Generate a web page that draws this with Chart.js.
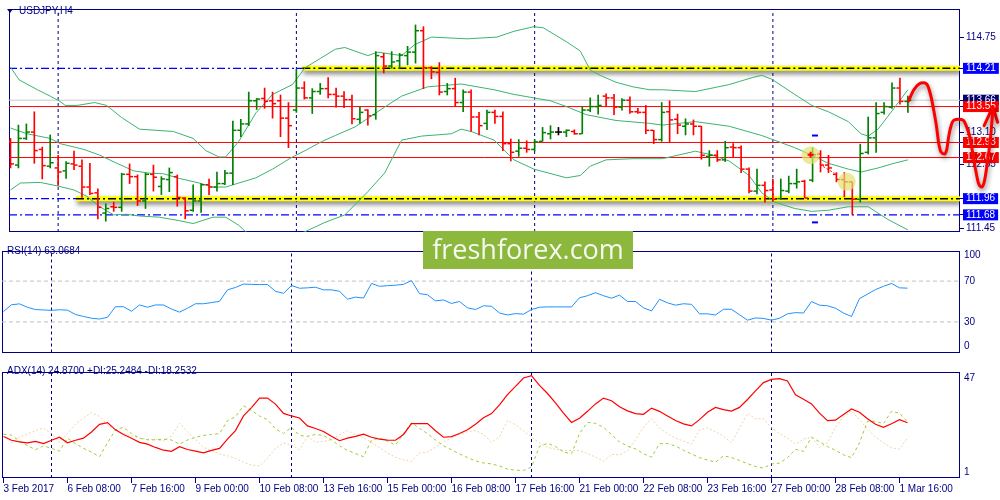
<!DOCTYPE html>
<html>
<head>
<meta charset="utf-8">
<title>USDJPY,H4</title>
<script src="https://cdn.jsdelivr.net/npm/chart.js@4.4.1/dist/chart.umd.min.js"></script>
<style>
  body { margin: 0; background: #fff; }
  #wrap { position: relative; width: 1000px; height: 500px; overflow: hidden; background: #fff; }
  #wrap canvas { position: absolute; left: 0; }
  .cap { position: absolute; left: 7px; font: 10px/12px "Liberation Sans", Arial, sans-serif; color: #000080; white-space: nowrap; z-index: 2; }
  #tri { position: absolute; left: 7px; top: 9px; width: 0; height: 0; border-left: 3px solid transparent; border-right: 3px solid transparent; border-top: 4px solid #000080; z-index: 2; }
  #logo { position: absolute; left: 423px; top: 231px; width: 210px; height: 38px; background: #8db83e; color: #f6f9ef; font: 27px/36px "Open Sans", sans-serif; text-align: center; z-index: 3; }
</style>
</head>
<body>
<div id="wrap">
  <canvas id="main" width="1000" height="241" style="top:0"></canvas>
  <canvas id="rsi" width="1000" height="121" style="top:241px"></canvas>
  <canvas id="adx" width="1000" height="138" style="top:362px"></canvas>
  <div id="tri"></div>
  <div class="cap" style="left:19px;top:5px">USDJPY,H4</div>
  <div class="cap" style="top:245px">RSI(14) 63.0684</div>
  <div class="cap" style="top:365px">ADX(14) 24.8700 +DI:25.2484 -DI:18.2532</div>
  <div id="logo">freshforex.com</div>
</div>
<script>
// H4 bars, 3 Feb 2017 00:00 .. 1 Mar 20:00
const barOpen = [112.95,112.54,113.00,113.11,112.81,112.52,112.49,112.44,112.56,112.52,
  112.16,112.06,111.71,111.82,111.81,112.38,112.34,111.92,112.38,112.17,
  112.29,112.34,111.97,111.76,111.92,112.20,112.16,112.22,112.40,113.14,
  113.25,113.65,113.69,113.65,113.65,113.35,113.49,113.87,113.70,113.81,
  113.86,113.76,113.73,113.67,113.33,113.49,113.41,114.41,114.25,114.34,
  114.43,114.49,114.86,114.22,114.14,113.81,113.86,113.62,113.80,113.37,
  113.26,113.45,113.38,112.91,112.78,112.83,112.81,112.95,113.08,113.11,
  113.11,113.12,113.08,113.49,113.55,113.73,113.70,113.54,113.66,113.46,
  113.45,113.14,112.98,113.46,113.33,113.21,113.25,113.21,112.69,112.71,
  112.63,112.85,112.84,112.47,112.09,112.19,112.11,111.96,112.09,112.22,
  112.26,112.28,112.73,112.54,112.38,112.29,112.25,111.95,112.76,113.01,
  113.45,113.54,113.87,113.64];
const barHigh = [113.00,113.23,113.25,113.46,112.85,113.06,112.71,112.60,112.78,112.63,
  112.57,112.13,111.87,111.90,112.40,112.56,112.37,112.40,112.54,112.34,
  112.49,112.37,111.98,112.20,112.22,112.30,112.42,112.45,113.30,113.33,
  113.80,113.69,113.87,113.80,113.75,113.62,114.19,113.98,113.86,113.95,
  114.05,113.87,113.81,113.75,113.54,113.50,114.50,114.47,114.50,114.47,
  114.59,114.96,114.93,114.24,114.31,113.95,114.04,113.84,113.84,113.45,
  113.49,113.49,113.46,112.99,112.98,112.96,112.98,113.19,113.22,113.19,
  113.15,113.15,113.55,113.70,113.75,113.77,113.76,113.69,113.72,113.52,
  113.57,113.14,113.62,113.65,113.42,113.34,113.32,113.21,112.79,112.79,
  112.95,112.91,112.87,112.49,112.47,112.25,112.30,112.30,112.35,112.47,
  112.28,112.84,112.79,112.71,112.41,112.41,112.25,112.90,113.37,113.62,
  113.62,113.96,114.04,113.73];
const barLow = [112.49,112.49,112.98,112.57,112.30,112.49,112.19,112.31,112.46,111.98,
  112.03,111.61,111.57,111.74,111.74,112.22,111.84,111.79,112.09,112.03,
  112.08,111.83,111.61,111.74,111.72,112.03,112.09,112.20,112.20,113.03,
  113.22,113.50,113.52,113.35,113.03,112.84,113.45,113.68,113.43,113.76,
  113.70,113.54,113.53,113.25,113.26,113.23,113.33,114.13,114.21,114.21,
  114.27,114.30,113.86,114.03,113.75,113.75,113.55,113.46,113.12,113.06,
  113.15,113.26,112.79,112.61,112.69,112.76,112.78,112.95,112.99,113.06,
  113.03,113.07,113.08,113.46,113.42,113.55,113.41,113.49,113.43,113.43,
  113.08,112.91,112.95,112.94,113.08,113.06,113.06,112.64,112.52,112.60,
  112.60,112.68,112.41,112.06,112.04,111.90,111.92,111.95,112.06,112.14,
  111.97,112.25,112.42,112.41,112.25,111.99,111.68,111.90,112.73,112.76,
  113.42,113.52,113.59,113.45];
const barClose = [112.56,113.00,113.11,112.79,112.53,112.58,112.42,112.57,112.54,112.16,
  112.05,111.81,111.79,111.81,112.38,112.34,111.92,112.38,112.33,112.30,
  112.41,111.98,111.75,111.92,112.20,112.16,112.22,112.40,113.14,113.25,
  113.65,113.68,113.64,113.60,113.35,113.22,113.87,113.70,113.81,113.86,
  113.76,113.73,113.67,113.34,113.45,113.39,114.43,114.25,114.32,114.44,
  114.49,114.86,114.22,114.15,113.80,113.86,113.62,113.80,113.37,113.22,
  113.45,113.38,112.91,112.76,112.83,112.81,112.94,113.10,113.11,113.11,
  113.14,113.08,113.49,113.55,113.57,113.70,113.54,113.66,113.46,113.45,
  113.14,112.98,113.45,113.32,113.23,113.25,113.21,112.71,112.71,112.63,
  112.84,112.84,112.47,112.09,112.19,112.10,111.95,112.10,112.22,112.25,
  111.97,112.72,112.54,112.49,112.29,112.25,111.95,112.74,113.01,113.43,
  113.55,113.87,113.64,113.66];

// Bollinger bands: [bar, price]
const bbUpper = [[0,114.23],[1.1,114.01],[3.4,113.84],[5,113.73],[6.1,113.65],[6.9,113.57],[8.4,113.57],[10.6,113.62],
  [12.1,113.57],[14,113.36],[16.25,113.16],[20.5,113.12],[23,113.00],[24.6,112.79],[26.25,112.68],[27.1,112.68],
  [28.75,112.95],[30.9,113.44],[33,113.76],[35.5,113.93],[37.1,114.22],[39,114.38],[40.9,114.54],[42.1,114.57],
  [45,114.43],[46.25,114.49],[49.25,114.43],[50.9,114.62],[53,114.75],[57.5,114.72],[61.25,114.75],[63.4,114.85],
  [65.9,114.93],[67.1,114.91],[70,114.67],[71.75,114.51],[73,114.18],[74.25,114.09],[76.25,113.97],[78.4,113.89],
  [80.5,113.84],[82.1,113.84],[86.25,113.81],[90.5,113.93],[93.4,114.05],[94.6,114.09],[95.9,114.02],[98.75,113.76],
  [100.9,113.57],[103,113.46],[105.5,113.29],[107.1,113.08],[108,113.04],[109.25,113.16],[111.25,113.52],[113,113.84]];
const bbMiddle = [[0,113.18],[2.1,113.08],[5,113.00],[6.25,112.91],[9.25,112.81],[11.25,112.71],[13.4,112.57],[15.5,112.44],
  [17.5,112.40],[19.25,112.39],[21.25,112.31],[23.75,112.23],[25.5,112.16],[27.1,112.16],[28.75,112.23],[30.9,112.32],
  [33,112.47],[35.5,112.68],[37.1,112.79],[39.25,112.95],[40.9,113.05],[43.4,113.20],[47.1,113.54],[49.25,113.73],
  [52.5,113.89],[56.75,113.94],[60.9,113.84],[63.4,113.76],[65.9,113.70],[68,113.65],[70,113.55],[72.5,113.41],
  [76.25,113.31],[80.5,113.26],[82.1,113.23],[86.25,113.29],[90.5,113.21],[94.6,113.05],[98.75,112.84],[100.9,112.71],
  [103,112.57],[105.5,112.47],[107.1,112.42],[109.25,112.49],[111.25,112.57],[113,112.63]];
const bbLower = [[0,112.11],[1.25,112.23],[3.75,112.24],[5.9,112.18],[8,112.11],[9.6,112.00],[11.25,111.82],[13,111.68],
  [14.6,111.69],[16.25,111.66],[18.75,111.64],[21.25,111.58],[23,111.53],[25.5,111.64],[27.1,111.64],[28.75,111.50],
  [29.6,111.39],[31.5,111.26],[34,111.22],[37.1,111.39],[39.6,111.55],[42.1,111.68],[45,112.08],[47.1,112.40],
  [49.25,112.97],[51.75,113.04],[55.5,113.08],[56.75,113.16],[58,113.12],[60.9,112.97],[63.4,112.63],[65.9,112.47],
  [70,112.32],[71.75,112.36],[73,112.52],[75,112.63],[78.4,112.65],[82.1,112.65],[86.25,112.78],[88.4,112.71],
  [90.5,112.61],[93,112.36],[94.6,112.06],[96.25,111.90],[98.75,111.79],[100.9,111.74],[103,111.76],[105.5,111.82],
  [108,111.82],[110.5,111.60],[113,111.42]];

const rsiValues = [40.2,46.8,47.7,44.3,42.1,41.7,41.3,41.9,41.5,37.3,
  35.3,33.6,32.8,34.5,44.9,44.9,40.4,46.6,44.4,46.6,
  46.6,42.6,39.6,43.4,47.8,47.8,48.9,50.2,61.4,63.8,
  67.1,66.8,66.6,66.6,60.0,58.0,65.7,63.0,63.4,64.0,
  61.4,61.4,60.0,52.3,54.3,53.4,67.7,64.9,65.5,66.0,
  66.8,70.5,57.7,56.6,50.6,51.5,48.1,50.0,43.8,42.1,
  45.8,45.3,38.7,36.8,38.1,37.6,42.1,44.4,44.7,44.7,
  44.7,44.7,53.6,55.7,58.6,55.7,53.2,56.3,50.0,50.0,
  43.8,40.7,52.1,48.7,46.4,47.8,47.2,37.9,37.9,36.8,
  42.4,42.4,37.0,31.7,33.9,33.4,31.7,33.6,37.9,39.1,
  38.7,50.0,46.4,45.8,43.4,38.7,35.3,52.9,57.2,61.7,
  64.9,67.7,63.4,63.07];

const adxValues = [18.9,17.3,16.6,16.2,16.8,15.9,17.3,18.6,16.2,17.3,
  18.2,20.9,24.2,24.9,21.8,19.8,18.2,16.4,15.6,14.2,
  13.0,12.5,14.5,13.3,12.6,11.9,12.9,13.8,17.8,21.5,
  27.8,31.4,35.5,35.5,32.9,28.9,27.8,26.9,23.5,22.4,
  21.1,19.0,17.1,18.2,19.0,19.9,18.6,17.8,17.4,17.3,
  19.8,24.5,24.5,24.5,21.4,18.6,18.9,20.2,21.8,24.2,
  27.0,28.8,32.6,37.0,40.6,44.2,45.2,41.0,37.5,33.4,
  29.0,25.0,26.8,29.8,33.0,35.5,34.4,31.8,30.0,28.8,
  28.5,31.2,29.8,27.8,25.8,24.4,23.5,26.2,29.4,31.5,
  30.5,29.9,31.5,34.9,38.6,42.2,43.6,43.9,42.9,36.9,
  35.0,33.0,29.0,25.8,26.0,28.4,30.8,29.4,26.6,24.2,
  22.9,24.4,26.2,24.87];
const plusDI = [19.9,19.5,17.0,15.0,13.2,14.9,13.8,12.6,18.2,15.8,
  13.8,12.2,10.2,16.2,21.8,22.9,20.2,18.2,17.5,17.5,
  17.8,17.4,15.6,17.4,18.6,19.4,19.8,20.2,25.8,27.5,
  32.2,30.2,27.8,26.2,22.2,20.2,22.9,19.4,19.0,19.8,
  19.4,17.4,14.9,12.9,11.6,10.2,17.4,18.2,16.9,15.2,
  20.2,24.9,22.4,20.2,17.4,14.9,13.2,11.4,9.8,8.4,
  7.5,7.1,6.2,4.8,4.4,4.2,5.8,14.6,16.0,14.6,
  12.2,11.5,20.2,25.0,24.6,22.9,19.8,16.6,14.8,13.6,
  11.5,10.0,15.8,15.9,14.8,13.0,11.4,9.8,8.8,7.8,
  10.6,9.8,8.6,7.2,6.0,5.3,7.1,7.4,9.8,13.4,
  12.5,18.6,16.6,14.6,13.0,11.0,9.8,16.2,25.5,25.5,
  24.5,29.8,29.0,25.25];
const minusDI = [20.2,16.2,18.6,20.0,21.4,22.6,20.2,16.4,20.2,24.2,
  27.0,29.2,27.6,24.2,21.8,20.2,19.2,18.2,17.8,17.6,
  17.0,19.2,24.6,21.0,17.6,14.2,12.8,11.4,10.6,9.4,
  7.8,6.6,6.2,9.5,13.8,16.2,15.2,13.2,18.9,16.4,
  16.8,17.5,19.6,21.5,19.6,18.4,16.4,14.2,11.8,10.0,
  8.8,8.2,11.8,12.2,14.2,16.6,18.2,19.8,21.0,21.5,
  19.8,16.4,18.9,25.8,24.0,21.4,18.6,16.2,14.2,13.4,
  12.9,12.9,12.9,11.6,10.0,8.2,11.2,11.0,12.8,17.4,
  23.0,26.6,22.6,20.2,18.2,17.0,15.6,21.8,22.6,21.0,
  19.0,16.2,22.6,28.9,26.6,26.6,22.6,20.2,18.2,15.6,
  17.8,18.6,14.2,16.2,23.0,27.4,30.0,26.2,22.2,18.6,
  16.2,14.0,13.5,18.25];

// time axis
const xTickIdx = [0,8,16,24,32,40,48,56,64,72,80,88,96,104,112];
const xTickLabels = ['3 Feb 2017','6 Feb 08:00','7 Feb 16:00','9 Feb 00:00','10 Feb 08:00','13 Feb 16:00',
  '15 Feb 00:00','16 Feb 08:00','17 Feb 16:00','21 Feb 00:00','22 Feb 08:00','23 Feb 16:00',
  '27 Feb 00:00','28 Feb 08:00','1 Mar 16:00'];
const weekIdx = [6, 36, 66, 96];

// price scale + levels
const priceTicks = [114.75, 113.10, 112.55, 111.45];
const lastPrice = 113.66;
const redLevels = [113.55, 112.93, 112.67];
const yellowLevels = [114.21, 111.96];
const yellowFrom = [36.75, 8.25];
const blueLevel = 111.68;
const rsiLevels = [100, 70, 30, 0];
const adxLevels = [47, 1];

// analyst marks
const markCircles = [[100.75, 112.71], [105.3, 112.25]];
const markPlus = [[100.75, 112.72]];
const markDash = [[101.3, 113.05], [101.3, 111.55]];
const markArrow = [[101.9, 112.55], [103.75, 112.40]];
const forecast = [[113.1,113.65],[113.75,113.84],[114.4,113.94],[115,113.96],[115.5,113.91],[115.9,113.73],
  [116.25,113.49],[116.6,113.21],[116.9,112.90],[117.2,112.76],[117.6,112.73],[117.9,112.81],[118.1,113.00],
  [118.4,113.20],[118.75,113.31],[119.4,113.33],[120,113.31],[120.4,113.20],[120.75,113.05],[121.1,112.80],
  [121.5,112.48],[121.9,112.22],[122.3,112.16],[122.6,112.24],[123,112.57],[123.4,113.00],[123.7,113.50]];
const forecastHead = [[122.6,113.22],[123.7,113.55],[124.3,113.28]];

const navy = '#000080';
const font = { family: '"Liberation Sans", Arial, sans-serif', size: 10, lineHeight: 1.1 };
const xMin = -0.1875, xMax = 119.5625;
const mainMin = 111.384, mainMax = 115.235;

const pts = arr => arr.map(([x, y]) => ({ x, y }));
const seq = arr => arr.map((y, x) => ({ x, y }));
const hline = (x0, x1, y, color, width, dash, order, extra) => Object.assign({
  type: 'line', data: [{ x: x0, y }, { x: x1, y }], borderColor: color, borderWidth: width,
  borderDash: dash || [], pointRadius: 0, order
}, extra || {});
const vlines = (y0, y1) => weekIdx.map(i => ({
  type: 'line', data: [{ x: i, y: y0 }, { x: i, y: y1 }], borderColor: navy, borderWidth: 1,
  borderDash: [3, 3], pointRadius: 0, order: 30
}));

const framePlugin = {
  id: 'frame',
  beforeDatasetsDraw(chart) {
    const { ctx, chartArea: a } = chart;
    const l = Math.round(a.left), t = Math.round(a.top), r = Math.round(a.right), b = Math.round(a.bottom);
    ctx.save();
    ctx.strokeStyle = navy;
    ctx.lineWidth = 1;
    ctx.strokeRect(l + 0.5, t + 0.5, r - l - 1, b - t - 1);
    ctx.restore();
  }
};
const shadowPlugin = {
  id: 'shadow',
  beforeDatasetDraw(chart, args) {
    const ds = chart.data.datasets[args.index];
    if (!ds.shadow) return;
    const c = chart.ctx;
    c.save();
    c.shadowColor = ds.shadow;
    c.shadowBlur = 5;
    c.shadowOffsetX = 1;
    c.shadowOffsetY = 3;
  },
  afterDatasetDraw(chart, args) {
    if (chart.data.datasets[args.index].shadow) chart.ctx.restore();
  }
};

const hiddenX = () => ({ type: 'linear', min: xMin, max: xMax, offset: false, grid: { offset: false }, display: false });

function baseOptions(padding, yScale, xScale) {
  return {
    responsive: false, animation: false, events: [],
    layout: { padding },
    plugins: { legend: { display: false }, tooltip: { enabled: false } },
    scales: { x: xScale || hiddenX(), y: yScale }
  };
}

// ---- main price panel ----
const boxMap = {};
boxMap[lastPrice.toFixed(2)] = '#000070';
yellowLevels.forEach(v => { boxMap[v.toFixed(2)] = '#0000ff'; });
boxMap[blueLevel.toFixed(2)] = '#0000ff';
redLevels.forEach(v => { boxMap[v.toFixed(2)] = '#ff0000'; });
const boxOf = t => (t ? boxMap[t.value.toFixed(2)] : undefined);
const mainTickOrder = priceTicks.concat([lastPrice, yellowLevels[0], ...redLevels, yellowLevels[1], blueLevel]);

const barColors = barClose.map((c, i) => c > barOpen[i] ? '#008000' : (c < barOpen[i] ? '#ff0000' : '#000000'));

// the drawn forecast runs past the last bar, over the price scale; its points are fed
// in reverse order so Chart.js does not trim the ones beyond the x range
const mainSets = [
  ...vlines(mainMin, mainMax),
  hline(xMin, xMax, lastPrice, '#c8c8c8', 1, [], 29),
  ...yellowLevels.map((v, k) => hline(yellowFrom[k], xMax, v, '#ffff00', 5, [], 28, { shadow: 'rgba(0,0,0,0.55)' })),
  ...redLevels.map(v => hline(xMin, xMax, v, '#ff0000', 1, [], 27)),
  ...yellowLevels.map((v, k) => hline(yellowFrom[k], xMax, v, '#000000', 1.5, [8, 3, 2, 3], 26)),
  ...yellowLevels.map((v, k) => hline(xMin, yellowFrom[k], v, '#0000ff', 1.2, [8, 3, 2, 3], 26)),
  hline(xMin, xMax, blueLevel, '#0000ff', 1.2, [8, 3, 2, 3], 26),
  ...[bbUpper, bbMiddle, bbLower].map(b => ({
    type: 'line', data: pts(b), borderColor: '#3cb371', borderWidth: 1, pointRadius: 0, order: 20
  })),
  { type: 'line', data: pts(markDash), showLine: false, pointStyle: 'line', pointRadius: 3,
    pointBorderColor: '#0000ff', pointBorderWidth: 2, order: 15 },
  { type: 'bar', data: barHigh.map((h, i) => ({ x: i, y: [barLow[i], h] })), backgroundColor: barColors,
    barThickness: 1, grouped: false, order: 10 },
  { type: 'line', data: barOpen.map((o, i) => ({ x: i - 0.25, y: o })), showLine: false, pointStyle: 'line',
    pointRadius: 1.5, pointBorderColor: barColors, pointBorderWidth: 1.5, order: 10 },
  { type: 'line', data: barClose.map((c, i) => ({ x: i + 0.25, y: c })), showLine: false, pointStyle: 'line',
    pointRadius: 1.5, pointBorderColor: barColors, pointBorderWidth: 1.5, order: 10 },
  { type: 'line', data: pts(markCircles), showLine: false, pointRadius: 9, pointBorderWidth: 0,
    pointBackgroundColor: 'rgba(225,225,110,0.7)', order: 6 },
  { type: 'line', data: pts(markArrow), borderColor: '#ff0000', borderWidth: 1, borderDash: [2, 2], pointRadius: 0, order: 5 },
  { type: 'line', data: pts(markPlus), showLine: false, pointStyle: 'cross', pointRadius: 3,
    pointBorderColor: '#ff0000', pointBorderWidth: 2, order: 4 },
  { type: 'line', data: pts(forecast).reverse(), borderColor: '#ff0000', borderWidth: 3, pointRadius: 0,
    cubicInterpolationMode: 'monotone', borderCapStyle: 'round', borderJoinStyle: 'round',
    clip: false, order: 1, shadow: 'rgba(0,0,0,0.45)' },
  { type: 'line', data: pts(forecastHead).reverse(), borderColor: '#ff0000', borderWidth: 3, pointRadius: 0,
    borderCapStyle: 'round', borderJoinStyle: 'round', clip: false, order: 1, shadow: 'rgba(0,0,0,0.45)' }
];

new Chart(document.getElementById('main'), {
  type: 'line',
  data: { datasets: mainSets },
  options: baseOptions({ left: 2, top: 2, bottom: 1, right: 0 }, {
    type: 'linear', position: 'right', min: mainMin, max: mainMax,
    afterBuildTicks: s => { s.ticks = mainTickOrder.map(v => ({ value: v })); },
    afterFit: s => { s.width = 40; },
    border: { display: false },
    grid: { drawOnChartArea: false, drawTicks: true, tickLength: 4, color: navy },
    ticks: {
      autoSkip: false, padding: 2, font,
      callback: v => v.toFixed(2),
      color: c => boxOf(c.tick) ? '#ffffff' : navy,
      showLabelBackdrop: c => !!boxOf(c.tick),
      backdropColor: c => boxOf(c.tick) || 'rgba(0,0,0,0)',
      backdropPadding: { x: 3, y: 0 }
    }
  }),
  plugins: [framePlugin, shadowPlugin]
});

// ---- RSI panel ----
new Chart(document.getElementById('rsi'), {
  type: 'line',
  data: {
    datasets: [
      ...vlines(0, 100),
      hline(xMin, xMax, 70, '#c0c0c0', 1, [4, 3], 25),
      hline(xMin, xMax, 30, '#c0c0c0', 1, [4, 3], 25),
      { type: 'line', data: seq(rsiValues), borderColor: '#1e90ff', borderWidth: 1, pointRadius: 0, order: 1 }
    ]
  },
  options: baseOptions({ left: 2, top: 2, bottom: 1, right: 0 }, {
    type: 'linear', position: 'right', min: 0, max: 100,
    afterBuildTicks: s => { s.ticks = rsiLevels.map(v => ({ value: Math.min(94.9, Math.max(6, v)) })); },
    afterFit: s => { s.width = 40; },
    border: { display: false },
    grid: { display: false, drawTicks: false },
    ticks: { autoSkip: false, padding: 4, font, color: navy, callback: (v, i) => String(rsiLevels[i]) }
  }),
  plugins: [framePlugin]
});

// ---- ADX panel ----
new Chart(document.getElementById('adx'), {
  type: 'line',
  data: {
    datasets: [
      ...vlines(1, 47),
      { type: 'line', data: seq(minusDI), borderColor: '#f0d3a2', borderWidth: 1, borderDash: [2, 2], pointRadius: 0, order: 3 },
      { type: 'line', data: seq(plusDI), borderColor: '#9acd32', borderWidth: 1, borderDash: [3, 3], pointRadius: 0, order: 2 },
      { type: 'line', data: seq(adxValues), borderColor: '#ff0000', borderWidth: 1.2, pointRadius: 0, order: 1 }
    ]
  },
  options: baseOptions({ left: 2, top: 1, bottom: 0, right: 0 }, {
    type: 'linear', position: 'right', min: 1, max: 47,
    afterBuildTicks: s => { s.ticks = adxLevels.map(v => ({ value: Math.min(44.2, Math.max(3.4, v)) })); },
    afterFit: s => { s.width = 40; },
    border: { display: false },
    grid: { display: false, drawTicks: false },
    ticks: { autoSkip: false, padding: 4, font, color: navy, callback: (v, i) => String(adxLevels[i]) }
  }, {
    type: 'linear', position: 'bottom', min: xMin, max: xMax, offset: false,
    afterBuildTicks: s => { s.ticks = xTickIdx.map(v => ({ value: v })); },
    afterFit: s => { s.height = 22; },
    border: { display: false },
    grid: { drawOnChartArea: false, drawTicks: true, tickLength: 5, color: navy, offset: false },
    ticks: { autoSkip: false, maxRotation: 0, minRotation: 0, align: 'start', padding: 1, font, color: navy,
      callback: (v, i) => xTickLabels[i] }
  }),
  plugins: [framePlugin]
});
</script>
</body>
</html>
